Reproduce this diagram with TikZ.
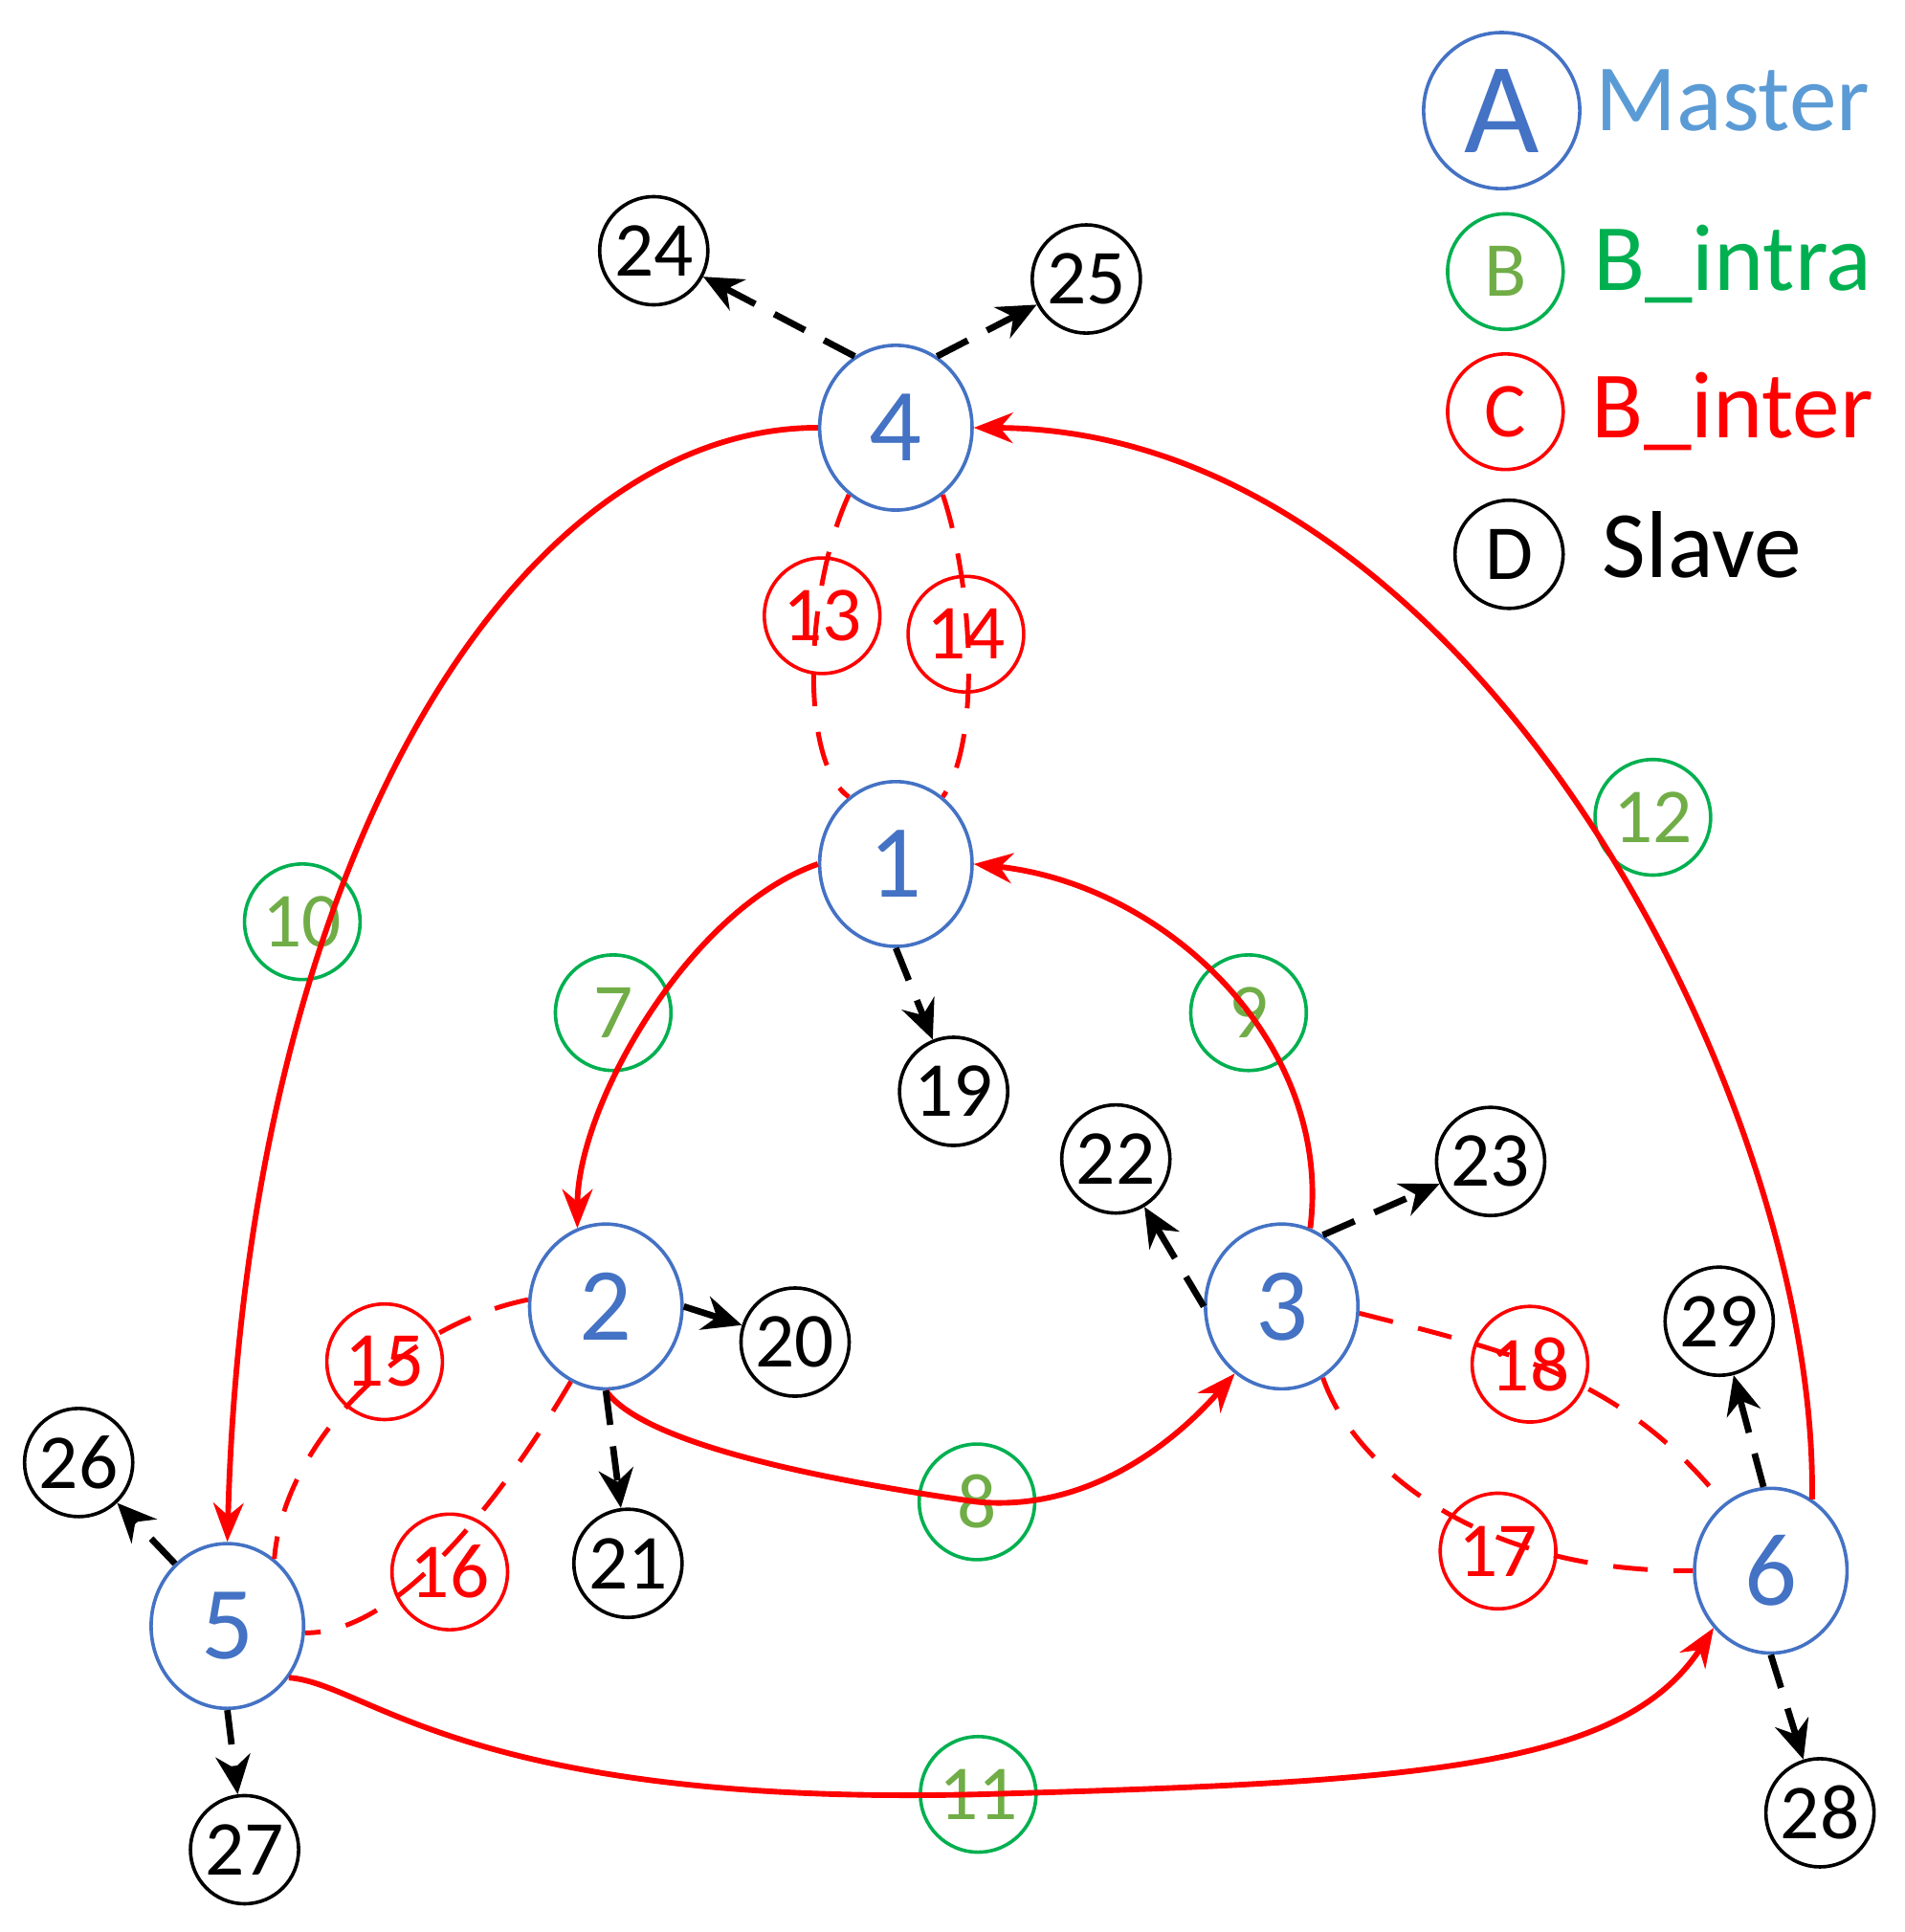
\documentclass[tikz,border=0pt]{standalone}
\usepackage{fontspec}
\setmainfont{Carlito}
\usetikzlibrary{shapes.geometric,arrows.meta}
\definecolor{mblue}{RGB}{68,114,196}
\definecolor{lblue}{RGB}{91,155,213}
\definecolor{gring}{RGB}{0,176,80}
\definecolor{gtxt}{RGB}{112,173,71}
\definecolor{rred}{RGB}{255,0,0}
\begin{document}
\begin{tikzpicture}[x=0.01cm,y=-0.01cm,
 master/.style={draw=mblue,thick,ellipse,minimum width=1.24cm,minimum height=1.34cm,inner sep=0,text=mblue,font=\fontsize{24}{24}\selectfont},
 slave/.style={draw=black,thick,circle,minimum size=0.88cm,inner sep=0,font=\fontsize{18}{18}\selectfont},
 intra/.style={draw=gring,thick,circle,minimum size=0.94cm,inner sep=0,text=gtxt,font=\fontsize{18}{18}\selectfont},
 inter/.style={draw=rred,thick,circle,minimum size=0.94cm,inner sep=0,text=rred,font=\fontsize{18}{18}\selectfont},
 rarr/.style={draw=rred,line width=1.3pt,-{Stealth[length=9pt,width=7pt]}},
 rdash/.style={draw=rred,line width=1.1pt,dash pattern=on 8pt off 6pt},
 barr/.style={draw=black,line width=1.5pt,dash pattern=on 8pt off 5pt,-{Stealth[length=9pt,width=8pt]}},
 leg/.style={anchor=center,font=\fontsize{22}{22}\selectfont}]
\useasboundingbox (0,0) rectangle (1550,1572);
% masters
\node[master] (n4) at (729,348) {4};
\node[master] (n1) at (729,703) {1};
\node[master] (n2) at (493,1063) {2};
\node[master] (n3) at (1043,1063) {3};
\node[master] (n5) at (185,1323) {5};
\node[master] (n6) at (1441,1278) {6};
% slaves
\node[slave] (s24) at (532,204) {24};
\node[slave] (s25) at (884,227) {25};
\node[slave] (s19) at (776,888) {19};
\node[slave] (s22) at (908,943) {22};
\node[slave] (s23) at (1213,945) {23};
\node[slave] (s20) at (647,1092) {20};
\node[slave] (s21) at (511,1272) {21};
\node[slave] (s26) at (64,1190) {26};
\node[slave] (s27) at (199,1505) {27};
\node[slave] (s29) at (1399,1075) {29};
\node[slave] (s28) at (1481,1475) {28};
% intra
\node[intra] (g10) at (246,750) {10};
\node[intra] (g7) at (499,824) {7};
\node[intra] (g9) at (1016,824) {9};
\node[intra] (g12) at (1345,665) {12};
\node[intra] (g8) at (795,1222) {8};
\node[intra] (g11) at (796,1460) {11};
% inter
\node[inter] (r13) at (669,501) {13};
\node[inter] (r14) at (786,516) {14};
\node[inter] (r15) at (313,1108) {15};
\node[inter] (r16) at (366,1279) {16};
\node[inter] (r17) at (1219,1262) {17};
\node[inter] (r18) at (1245,1110) {18};
% legend
\node[draw=mblue,thick,circle,minimum size=1.27cm,inner sep=0,text=mblue,font=\fontsize{30}{30}\selectfont] (la) at (1222,90) {A};
\node[intra] (lb) at (1225,221) {B};
\node[inter] (lc) at (1225,335) {C};
\node[slave] (ld) at (1228,451) {D};
\node[leg,text=lblue] (ta) at (1410,82) {Master};
\node[leg,text=gring] (tb) at (1410,215) {B\_intra};
\node[leg,text=rred] (tc) at (1410,335) {B\_inter};
\node[leg] (td) at (1385,443) {Slave};
% red solid
\draw[rarr] (n4.west) .. controls (420,348) and (200,700) .. (n5.north);
\draw[rarr] (n1.west) .. controls (560,740) and (470,900) .. (n2.110);
\draw[rarr] (n2.south) .. controls (520,1170) and (640,1200) .. (g8.center) .. controls (880,1230) and (950,1180) .. (n3.-125);
\draw[rarr] (n3.70) .. controls (1085,850) and (950,720) .. (n1.east);
\draw[rarr] (n6.60) .. controls (1480,900) and (1200,350) .. (n4.east);
\draw[rarr] (n5.-40) .. controls (300,1370) and (380,1470) .. (g11.center) .. controls (1150,1450) and (1320,1440) .. (n6.-135);
% red dashed
\draw[rdash] (n4.-125) .. controls (655,480) and (650,620) .. (n1.125);
\draw[rdash] (n4.-55) .. controls (790,470) and (800,600) .. (n1.55);
\draw[rdash] (n2.175) .. controls (320,1080) and (230,1180) .. (n5.55);
\draw[rdash] (n2.-115) .. controls (420,1200) and (330,1330) .. (n5.-5);
\draw[rdash] (n3.-5) .. controls (1230,1100) and (1320,1120) .. (n6.125);
\draw[rdash] (n3.-60) .. controls (1100,1190) and (1200,1280) .. (n6.180);
% black dashed arrows
\draw[barr] (n4.120) -- (s24);
\draw[barr] (n4.60) -- (s25);
\draw[barr] (n1.south) -- (s19);
\draw[barr] (n2.east) -- (s20);
\draw[barr] (n2.south) -- (s21);
\draw[barr] (n3.180) -- (s22);
\draw[barr] (n3.60) -- (s23);
\draw[barr] (n5.130) -- (s26);
\draw[barr] (n5.south) -- (s27);
\draw[barr] (n6.95) -- (s29);
\draw[barr] (n6.south) -- (s28);
\end{tikzpicture}
\end{document}
